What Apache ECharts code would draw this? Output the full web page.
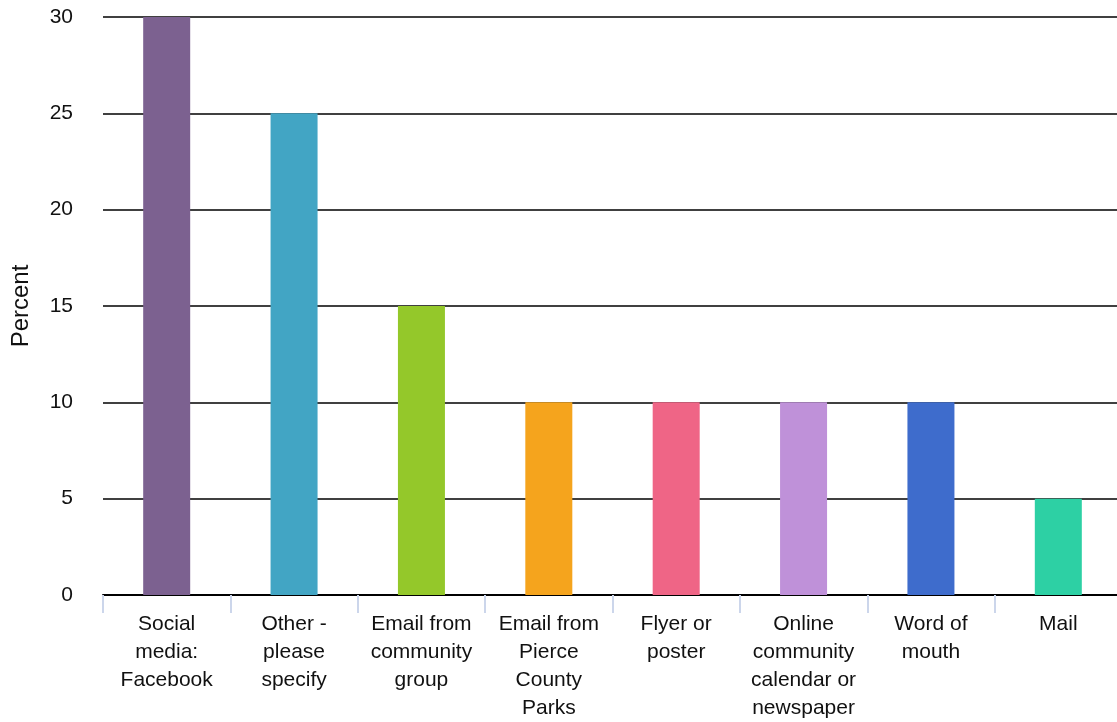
<!DOCTYPE html>
<html>
<head>
<meta charset="utf-8">
<script src="https://cdn.jsdelivr.net/npm/echarts@6/dist/echarts.min.js"></script>
<style>
  html, body { margin: 0; padding: 0; background: #fff; }
  #chart { width: 1117px; height: 722px; }
</style>
</head>
<body>
<div id="chart"></div>
<script>
// How respondents heard about the event
const categories = [
  'Social\nmedia:\nFacebook',
  'Other -\nplease\nspecify',
  'Email from\ncommunity\ngroup',
  'Email from\nPierce\nCounty\nParks',
  'Flyer or\nposter',
  'Online\ncommunity\ncalendar or\nnewspaper',
  'Word of\nmouth',
  'Mail'
];
const percents = [30, 25, 15, 10, 10, 10, 10, 5];
const barColors = ['#7c6190', '#42a5c4', '#94c82a', '#f5a41d', '#ef6586', '#bf91d9', '#3e6ccc', '#2dd0a4'];
const yTicks = [0, 5, 10, 15, 20, 25, 30];

const chart = echarts.init(document.getElementById('chart'), null, { renderer: 'canvas' });
chart.setOption({
  animation: false,
  textStyle: { fontFamily: 'Liberation Sans, Arial, sans-serif' },
  grid: { left: 103, top: 17, width: 1019, height: 578, containLabel: false, outerBoundsMode: 'none' },
  xAxis: {
    type: 'category',
    data: categories,
    axisLine: { show: true, lineStyle: { color: '#000', width: 2 } },
    axisTick: { show: true, length: 18, lineStyle: { color: '#ccd6eb', width: 2 } },
    axisLabel: {
      interval: 0,
      color: '#111',
      fontSize: 21,
      lineHeight: 28,
      margin: 15
    }
  },
  yAxis: {
    type: 'value',
    min: yTicks[0],
    max: yTicks[yTicks.length - 1],
    interval: 5,
    name: 'Percent',
    nameLocation: 'middle',
    nameGap: 70,
    nameTextStyle: { color: '#111', fontSize: 24 },
    axisLine: { show: false },
    axisTick: { show: false },
    axisLabel: { color: '#111', fontSize: 21, margin: 30 },
    splitLine: { lineStyle: { color: '#000', width: 1.5 } }
  },
  series: [{
    type: 'bar',
    barWidth: 47,
    data: percents.map((v, i) => ({ value: v, itemStyle: { color: barColors[i] } }))
  }]
});
</script>
</body>
</html>
